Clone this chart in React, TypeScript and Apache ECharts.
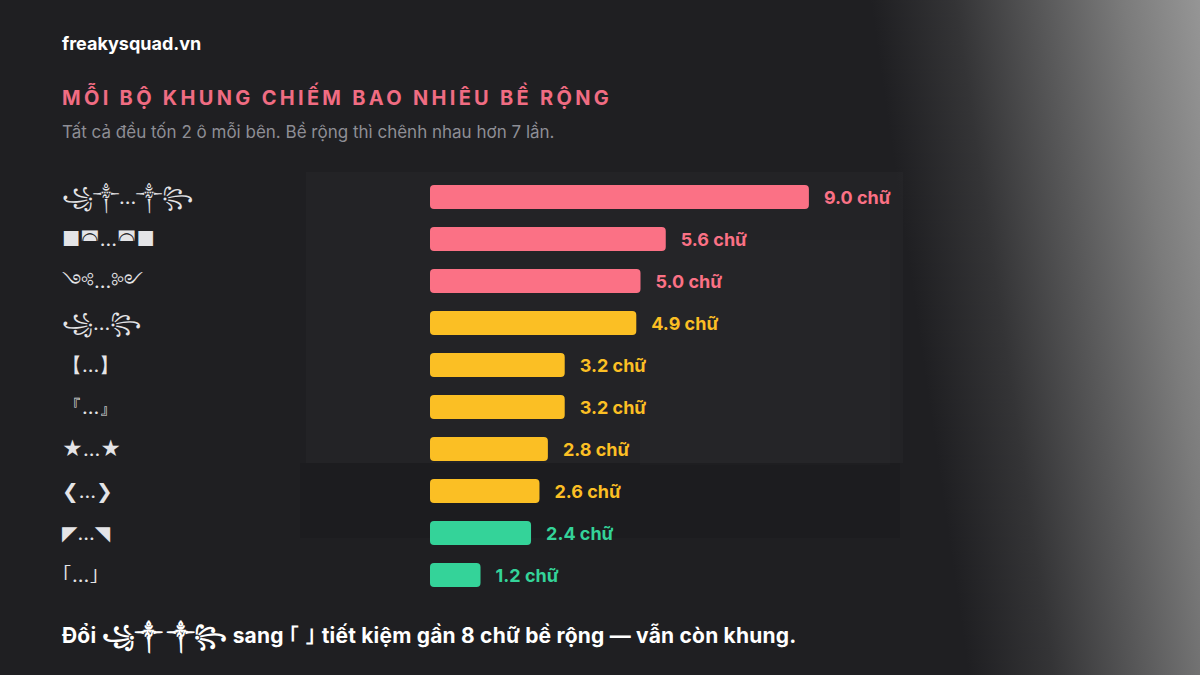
import React, { useEffect, useRef } from "react";
import * as echarts from "echarts";

const frames = ["꧁༒…༒꧂", "■◚…◚■", "༺…༻", "꧁…꧂", "【…】", "『…』", "★…★", "❮…❯", "◤…◥", "｢…｣"];
const widths = [9.0, 5.6, 5.0, 4.9, 3.2, 3.2, 2.8, 2.6, 2.4, 1.2];
const groups = ["wide", "wide", "wide", "mid", "mid", "mid", "mid", "mid", "narrow", "narrow"];
const groupColors: Record<string, string> = { wide: "#FB7185", mid: "#FBBF24", narrow: "#34D399" };
const unit = "chữ";

const brand = "freakysquad.vn";
const title = "MỖI BỘ KHUNG CHIẾM BAO NHIÊU BỀ RỘNG";
const subtitle = "Tất cả đều tốn 2 ô mỗi bên. Bề rộng thì chênh nhau hơn 7 lần.";
const footer = "Đổi ꧁༒ ༒꧂ sang ｢ ｣ tiết kiệm gần 8 chữ bề rộng — vẫn còn khung.";

export default function App() {
  const ref = useRef<HTMLDivElement>(null);
  useEffect(() => {
    if (!ref.current) return;
    const chart = echarts.init(ref.current, undefined, { renderer: "svg" });
    const font = "Inter, 'Noto Sans', 'DejaVu Sans', sans-serif";
    chart.setOption({
      animation: false,
      backgroundColor: "#1d1d20",
      textStyle: { fontFamily: font },
      graphic: [
        {
          type: "rect", z: -10, silent: true,
          shape: { x: 0, y: 0, width: 1200, height: 675 },
          style: {
            fill: new echarts.graphic.LinearGradient(920, 340, 1250, 292, [
              { offset: 0, color: "#1f1f22" },
              { offset: 0.25, color: "#343436" },
              { offset: 0.5, color: "#575758" },
              { offset: 0.75, color: "#7b7b7b" },
              { offset: 1, color: "#989898" },
            ], true),
          },
        },
        { type: "rect", z: -9, silent: true, shape: { x: 306, y: 172, width: 597, height: 291 }, style: { fill: "rgba(255,255,255,0.02)" } },
        { type: "rect", z: -9, silent: true, shape: { x: 640, y: 240, width: 250, height: 225 }, style: { fill: "rgba(255,255,255,0.012)" } },
        { type: "rect", z: -9, silent: true, shape: { x: 300, y: 463, width: 600, height: 75 }, style: { fill: "rgba(0,0,0,0.07)" } },
        { type: "text", left: 62, top: 34, style: { text: brand, fill: "#ffffff", font: "bold 18px " + font } },
        { type: "text", left: 62, top: 88, style: { text: title, fill: "#F06C82", font: "bold 20px " + font } },
        { type: "text", left: 62, top: 123, style: { text: subtitle, fill: "#8e8e95", font: "17px " + font } },
        { type: "text", left: 62, top: 625, style: { text: footer, fill: "#ffffff", font: "bold 21px " + font } },
      ],
      grid: { left: 430, right: 349, top: 176, bottom: 79, containLabel: false },
      xAxis: { type: "value", min: 0, max: 10, show: false },
      yAxis: {
        type: "category",
        inverse: true,
        data: frames,
        axisLine: { show: false },
        axisTick: { show: false },
        axisLabel: { align: "left", margin: 368, color: "#e4e4e7", fontSize: 20, fontFamily: font },
      },
      series: [
        {
          type: "bar",
          barWidth: 24,
          data: widths.map((v, i) => ({
            value: v,
            itemStyle: { color: groupColors[groups[i]], borderRadius: 4 },
            label: { color: groupColors[groups[i]] },
          })),
          label: {
            show: true,
            position: "right",
            distance: 15,
            fontSize: 18,
            fontWeight: "bold",
            fontFamily: font,
            formatter: (p: any) => `${p.value.toFixed(1)} ${unit}`,
          },
        },
      ],
    });
    const texts = ref.current.querySelectorAll("text");
    texts.forEach((t) => {
      if (t.textContent === title) (t as SVGTextElement).style.letterSpacing = "3.3px";
      if (t.textContent === footer) (t as SVGTextElement).style.letterSpacing = "0.2px";
    });
    return () => chart.dispose();
  }, []);
  return <div ref={ref} style={{ width: 1200, height: 675, position: "absolute", left: 0, top: 0 }} />;
}
